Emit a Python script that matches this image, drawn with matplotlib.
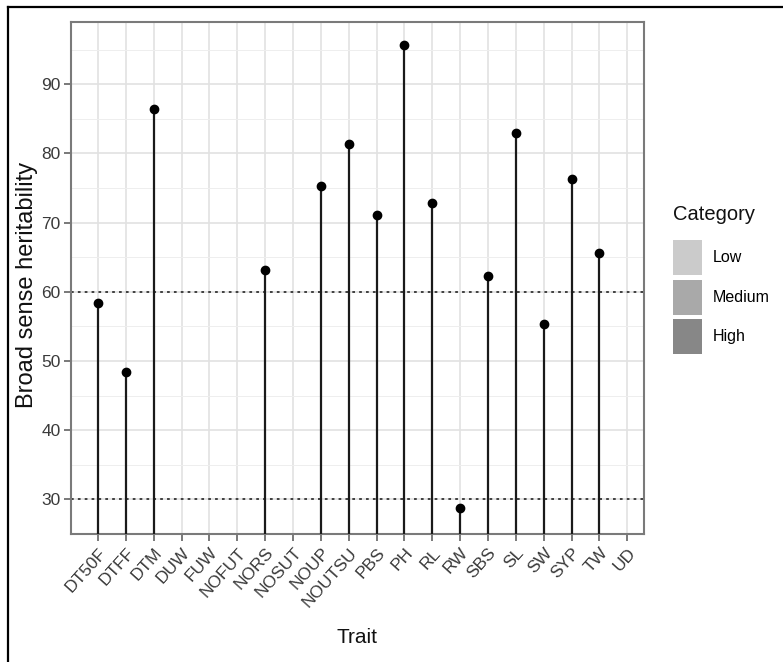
import matplotlib
matplotlib.use("Agg")
import matplotlib.pyplot as plt
from matplotlib.patches import Patch
from matplotlib.lines import Line2D
import numpy as np

plt.rcParams['font.family'] = ['Liberation Sans', 'DejaVu Sans']

# dados
traits = ['DT50F', 'DTFF', 'DTM', 'DUW', 'FUW', 'NOFUT', 'NORS', 'NOSUT', 'NOUP',
          'NOUTSU', 'PBS', 'PH', 'RL', 'RW', 'SBS', 'SL', 'SW', 'SYP', 'TW', 'UD']
heritability = [58.4, 48.4, 86.4, np.nan, np.nan, np.nan, 63.1, np.nan, 75.3,
                81.3, 71.1, 95.7, 72.8, 28.8, 62.3, 82.9, 55.4, 76.3, 65.6, np.nan]
thresholds = [30, 60]
categories = ['Low', 'Medium', 'High']
cat_colors = ['#cbcbcb', '#a9a9a9', '#878787']

W, H = 783, 662
fig = plt.figure(figsize=(W / 100, H / 100), dpi=100)

# caixa do painel em pixels
left, top, right, bottom = 71, 22, 644, 534
ax = fig.add_axes([left / W, 1 - bottom / H, (right - left) / W, (bottom - top) / H])

x = np.arange(len(traits))
y = np.array(heritability)
ok = ~np.isnan(y)

ax.set_xlim(-0.97, len(traits) - 0.4)
ax.set_ylim(25.5, 99)

# grade estilo theme_bw
ax.set_yticks([30, 40, 50, 60, 70, 80, 90])
ax.set_yticks([25, 35, 45, 55, 65, 75, 85, 95], minor=True)
ax.set_xticks(x)
ax.set_xticklabels(traits, rotation=48, ha='right', rotation_mode='anchor')
ax.grid(True, which='major', color='#e2e2e2', lw=1.2)
ax.grid(True, which='minor', axis='y', color='#eeeeee', lw=0.7)
ax.set_axisbelow(True)

ax.vlines(x[ok], 0, y[ok], color='#1a1a1a', lw=1.6, zorder=3)
ax.plot(x[ok], y[ok], 'o', color='black', ms=6, zorder=4)
for t in thresholds:
    ax.axhline(t, color='#333333', lw=1.3, ls=(0, (1.5, 2.3)), zorder=2)

for s in ax.spines.values():
    s.set_color('#7a7a7a')
    s.set_linewidth(1.5)
ax.tick_params(axis='both', which='major', color='#555555', length=5, width=1.1,
               labelsize=12.5, labelcolor='#3a3a3a')
ax.tick_params(axis='x', pad=3)
ax.tick_params(axis='y', pad=2.5)
ax.tick_params(which='minor', length=0)

ax.set_ylabel('Broad sense heritability', fontsize=17, color='#111111')
ax.yaxis.set_label_coords((38 - left) / (right - left), 0.486)
ax.set_xlabel('Trait', fontsize=15, color='#111111', labelpad=13)

# legenda (titulo desenhado a parte para acertar o espacamento)
fig.text(673 / W, 1 - 215 / H, 'Category', fontsize=14.5, color='#111111',
         ha='left', va='center')
handles = [Patch(facecolor=c, edgecolor='none') for c in cat_colors]
leg = fig.legend(handles, categories, loc='upper left',
                 bbox_to_anchor=(673 / W, 1 - 240 / H), borderaxespad=0, borderpad=0,
                 frameon=False, fontsize=11.5, handlelength=1.82, handleheight=3.0,
                 labelspacing=0.28, handletextpad=0.7)

# borda externa (so esquerda e topo)
fig.add_artist(Line2D([8 / W, 8 / W], [0, 1 - 7 / H], color='black', lw=1.6))
fig.add_artist(Line2D([8 / W, 1], [1 - 7 / H, 1 - 7 / H], color='black', lw=1.6))

fig.savefig('out.png', dpi=100, facecolor='white')
